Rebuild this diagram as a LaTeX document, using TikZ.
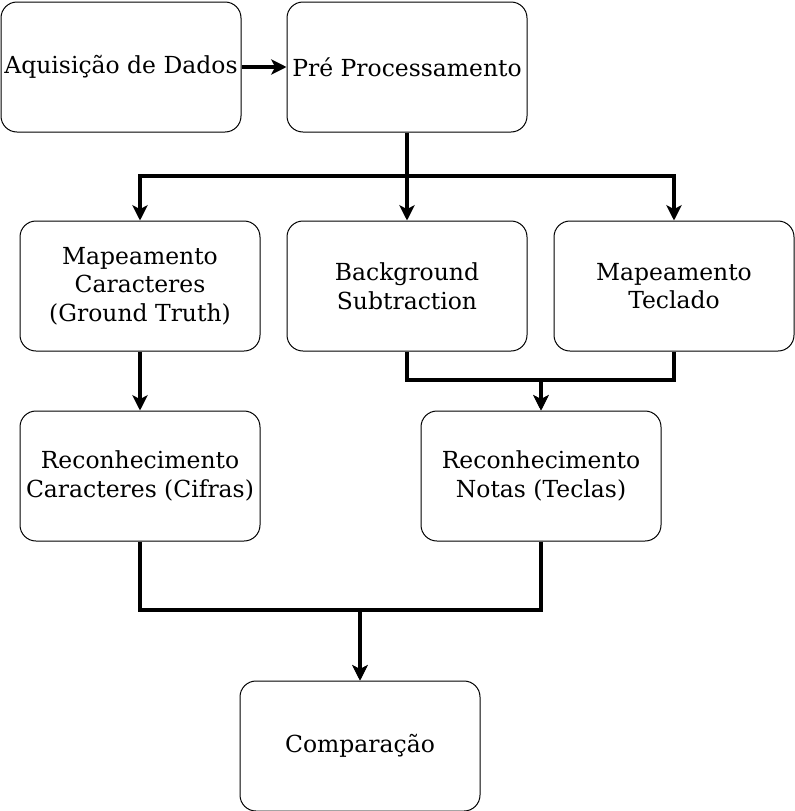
\documentclass[tikz,border=0pt]{standalone}
\usepackage{fontspec}
\setmainfont{DejaVu Serif}
\usetikzlibrary{arrows.meta}
\begin{document}
\begin{tikzpicture}[x=0.75pt, y=-0.75pt,
  stage/.style={rectangle, draw, rounded corners=12pt, line width=0.75pt,
                minimum width=180pt, minimum height=97.5pt, inner sep=0.5pt,
                align=center, font=\fontsize{17.6}{21.4}\selectfont},
  arrow/.style={-{Stealth[length=11.5pt, width=11.5pt, inset=3pt]}, line width=2.6pt}
]
  \useasboundingbox (0,0) rectangle (794,811);

  \node[stage] (A) at (121,67) {Aquisição de Dados};
  \node[stage] (P) at (407,67) {Pré Processamento};
  \node[stage] (MC) at (140,286) {Mapeamento\\Caracteres\\(Ground Truth)};
  \node[stage] (BS) at (407,286) {Background\\Subtraction};
  \node[stage] (MT) at (674,286) {Mapeamento\\Teclado};
  \node[stage] (RC) at (140,476) {Reconhecimento\\Caracteres (Cifras)};
  \node[stage] (RN) at (541,476) {Reconhecimento\\Notas (Teclas)};
  \node[stage] (C) at (360,746) {Comparação};

  \coordinate (s1) at (407,176);
  \coordinate (s2) at (541,380);
  \coordinate (s3) at (360,610);

  \draw[arrow] (A) -- (P);
  \draw[arrow] (P) -- (BS);
  \draw[arrow] (s1) -| (MC.north);
  \draw[arrow] (s1) -| (MT.north);
  \draw[arrow] (MC) -- (RC);
  \draw[arrow] (BS.south) |- (s2) -- (RN.north);
  \draw[arrow] (MT.south) |- (s2) -- (RN.north);
  \draw[arrow] (RC.south) |- (s3) -- (C.north);
  \draw[arrow] (RN.south) |- (s3) -- (C.north);
\end{tikzpicture}
\end{document}
